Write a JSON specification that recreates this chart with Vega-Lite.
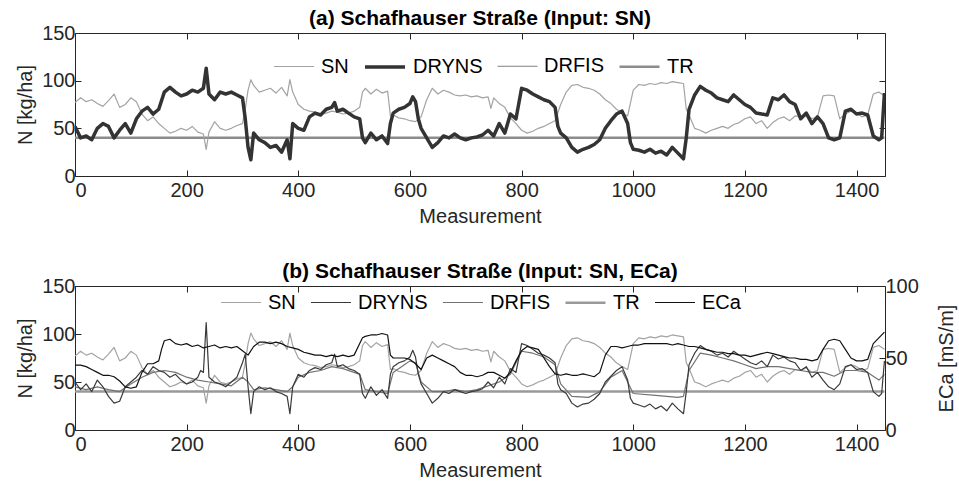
{
"$schema": "https://vega.github.io/schema/vega-lite/v6.json",
"padding": {"left": 15, "top": 7, "right": 2, "bottom": 2},
"data": {"values": [
{"m":0,"sn":77,"ya":52,"fa":52,"yb":50,"fb":45,"e":45,"tr":40},
{"m":10,"sn":82,"ya":40,"fa":40,"yb":42,"e":45},
{"m":20,"sn":78,"ya":42,"fa":42,"yb":48,"fb":42,"e":44},
{"m":30,"sn":80,"ya":38,"fa":38,"yb":40,"e":42},
{"m":40,"sn":76,"ya":50,"fa":50,"yb":52,"fb":45,"e":40},
{"m":50,"sn":73,"ya":55,"fa":55,"yb":45,"e":38},
{"m":60,"sn":79,"ya":52,"fa":52,"yb":35,"fb":42,"e":38},
{"m":70,"sn":86,"ya":40,"fa":40,"yb":28,"e":37},
{"m":80,"sn":72,"ya":48,"fa":48,"yb":30,"fb":40,"e":34},
{"m":90,"sn":75,"ya":55,"fa":55,"yb":45,"e":30},
{"m":100,"sn":82,"ya":45,"fa":45,"yb":50,"fb":48,"e":29},
{"m":110,"sn":78,"ya":60,"fa":60,"yb":55,"e":30},
{"m":120,"sn":65,"ya":68,"fa":68,"yb":62,"fb":55,"e":40},
{"m":130,"sn":58,"ya":72,"fa":72,"yb":58,"e":46},
{"m":140,"sn":62,"ya":65,"fa":65,"yb":66,"fb":60,"e":46},
{"m":150,"sn":55,"ya":70,"fa":70,"yb":62,"e":48},
{"m":155,"e":56},
{"m":160,"sn":50,"ya":88,"fa":88,"yb":60,"fb":62,"e":62},
{"m":170,"sn":45,"ya":93,"fa":93,"yb":55,"e":63},
{"m":180,"sn":47,"ya":88,"fa":88,"yb":58,"fb":60,"e":60},
{"m":190,"sn":50,"ya":84,"fa":84,"yb":52,"e":59},
{"m":200,"sn":48,"ya":86,"fa":86,"yb":48,"fb":55,"e":60},
{"m":210,"sn":52,"ya":90,"fa":90,"yb":50,"e":58},
{"m":220,"sn":46,"ya":88,"fa":88,"yb":55,"fb":52,"e":59},
{"m":225,"yb":62},
{"m":230,"sn":44,"ya":92,"fa":92,"yb":60,"e":57},
{"m":235,"sn":28,"ya":113,"fa":113,"yb":112},
{"m":240,"sn":46,"ya":86,"fa":86,"yb":55,"fb":50,"e":58},
{"m":250,"sn":57,"ya":80,"fa":80,"yb":50,"e":59},
{"m":260,"sn":50,"ya":88,"fa":88,"yb":48,"fb":48,"e":57},
{"m":270,"sn":48,"ya":86,"fa":86,"yb":45,"e":58},
{"m":280,"sn":50,"ya":88,"fa":88,"yb":50,"fb":46,"e":57},
{"m":290,"sn":53,"ya":85,"fa":85,"yb":55,"e":58},
{"m":300,"sn":55,"ya":82,"fa":82,"yb":70,"fb":55,"e":55},
{"m":305,"sn":70,"ya":60,"fa":60,"yb":79},
{"m":310,"sn":90,"ya":30,"fa":30,"yb":45,"fb":50,"e":52},
{"m":315,"sn":101,"ya":17,"fa":17,"yb":17},
{"m":320,"sn":95,"ya":45,"fa":45,"yb":40,"fb":42,"e":58},
{"m":330,"sn":88,"ya":38,"fa":38,"yb":45,"e":61},
{"m":340,"sn":90,"ya":35,"fa":35,"yb":42,"fb":44,"e":61},
{"m":350,"sn":92,"ya":30,"fa":30,"yb":44,"e":60},
{"m":360,"sn":87,"ya":32,"fa":32,"yb":40,"fb":42,"e":61},
{"m":370,"sn":93,"ya":25,"fa":25,"yb":38,"e":60},
{"m":380,"sn":84,"ya":38,"fa":38,"yb":35,"fb":40,"e":58},
{"m":385,"sn":101,"ya":18,"fa":18,"yb":17},
{"m":390,"sn":88,"ya":55,"fa":55,"yb":45,"fb":45,"e":57},
{"m":400,"sn":75,"ya":50,"fa":50,"yb":58,"fb":55,"e":56},
{"m":410,"sn":70,"ya":48,"fa":48,"yb":55,"e":54},
{"m":420,"sn":68,"ya":62,"fa":62,"yb":62,"fb":60,"e":53},
{"m":430,"sn":67,"ya":66,"fa":66,"yb":65,"e":52},
{"m":440,"sn":65,"ya":64,"fa":64,"yb":63,"fb":62,"e":52},
{"m":450,"sn":66,"ya":70,"fa":70,"yb":68,"e":51},
{"m":460,"sn":68,"ya":72,"fa":72,"yb":70,"fb":66,"e":52},
{"m":465,"ya":77,"fa":77,"yb":79},
{"m":470,"sn":67,"ya":68,"fa":68,"yb":66,"e":51},
{"m":480,"sn":65,"ya":70,"fa":70,"yb":68,"fb":64,"e":52},
{"m":490,"sn":66,"ya":66,"fa":66,"yb":64,"e":51},
{"m":500,"sn":68,"ya":62,"fa":62,"yb":62,"fb":60,"e":52},
{"m":510,"sn":72,"ya":60,"fa":60,"yb":58,"fb":58,"e":60},
{"m":515,"sn":88,"ya":40,"fa":40,"yb":38,"e":64},
{"m":520,"sn":92,"ya":35,"fa":35,"yb":33,"fb":42,"e":65},
{"m":530,"sn":86,"ya":45,"fa":45,"yb":45,"e":66},
{"m":540,"sn":91,"ya":38,"fa":38,"yb":36,"fb":40,"e":66},
{"m":550,"sn":87,"ya":42,"fa":42,"yb":42,"e":67},
{"m":560,"sn":89,"ya":34,"fa":34,"yb":33,"fb":38,"e":66},
{"m":565,"sn":63,"ya":55,"fa":55,"yb":58,"e":52},
{"m":570,"sn":64,"ya":66,"fa":66,"yb":66,"fb":60,"e":50},
{"m":580,"sn":61,"ya":70,"fa":70,"yb":70,"e":50},
{"m":590,"sn":60,"ya":72,"fa":72,"yb":72,"fb":68,"e":50},
{"m":600,"sn":58,"ya":76,"fa":76,"yb":76,"fb":72,"e":49},
{"m":605,"ya":83,"fa":83,"yb":83},
{"m":610,"sn":57,"ya":78,"fa":78,"yb":76,"fb":70,"e":46},
{"m":615,"ya":60,"fa":60,"yb":58},
{"m":620,"sn":62,"ya":50,"fa":50,"yb":48,"fb":50,"e":42},
{"m":630,"sn":80,"ya":40,"fa":40,"yb":38,"e":50},
{"m":640,"sn":92,"ya":30,"fa":30,"yb":28,"fb":40,"e":52},
{"m":650,"sn":86,"ya":35,"fa":35,"yb":33,"e":50},
{"m":660,"sn":90,"ya":42,"fa":42,"yb":40,"fb":40,"e":48},
{"m":670,"sn":88,"ya":40,"fa":40,"yb":38,"e":46},
{"m":680,"sn":85,"ya":44,"fa":44,"yb":42,"fb":42,"e":44},
{"m":690,"sn":84,"ya":40,"fa":40,"yb":40,"e":40},
{"m":700,"sn":85,"ya":38,"fa":38,"yb":38,"fb":40,"e":38},
{"m":710,"sn":83,"ya":40,"fa":40,"yb":40,"e":38},
{"m":720,"sn":84,"ya":41,"fa":41,"yb":41,"fb":42,"e":37},
{"m":730,"sn":82,"ya":43,"fa":43,"yb":43,"e":38},
{"m":740,"sn":83,"ya":48,"fa":48,"yb":50,"fb":46,"e":40},
{"m":745,"sn":71},
{"m":750,"sn":82,"ya":42,"fa":42,"yb":44,"e":40},
{"m":760,"sn":76,"ya":55,"fa":55,"yb":55,"fb":50,"e":38},
{"m":770,"sn":72,"ya":45,"fa":45,"yb":48,"e":36},
{"m":780,"sn":61,"ya":65,"fa":65,"yb":64,"fb":58,"e":40},
{"m":790,"sn":55,"ya":60,"fa":60,"yb":60,"e":48},
{"m":800,"sn":48,"ya":92,"fa":92,"yb":90,"fb":82,"e":55},
{"m":810,"sn":45,"ya":90,"fa":90,"yb":88,"e":58},
{"m":820,"sn":47,"ya":86,"fa":86,"yb":84,"fb":80,"e":57},
{"m":830,"sn":50,"ya":83,"fa":83,"yb":80,"e":56},
{"m":840,"sn":52,"ya":80,"fa":80,"yb":78,"fb":76,"e":50},
{"m":850,"sn":55,"ya":78,"fa":78,"yb":75,"e":44},
{"m":860,"sn":58,"ya":72,"fa":72,"yb":70,"fb":68,"e":39},
{"m":865,"ya":52,"fa":52,"yb":48},
{"m":870,"sn":75,"ya":45,"fa":45,"yb":42,"fb":48,"e":38},
{"m":880,"sn":88,"ya":40,"fa":40,"yb":38,"e":39},
{"m":890,"sn":95,"ya":30,"fa":30,"yb":28,"fb":35,"e":38},
{"m":900,"sn":96,"ya":25,"fa":25,"yb":24,"e":38},
{"m":910,"sn":93,"ya":28,"fa":28,"yb":27,"e":39},
{"m":920,"sn":92,"ya":30,"fa":30,"yb":28,"fb":34,"e":38},
{"m":930,"sn":90,"ya":33,"fa":33,"yb":32,"e":37},
{"m":940,"sn":86,"ya":38,"fa":38,"yb":38,"fb":40,"e":40},
{"m":950,"sn":80,"ya":50,"fa":50,"yb":50,"e":52},
{"m":960,"sn":76,"ya":58,"fa":58,"yb":56,"fb":55,"e":58},
{"m":970,"sn":70,"ya":65,"fa":65,"yb":62,"e":58},
{"m":980,"sn":66,"ya":68,"fa":68,"yb":66,"fb":62,"e":57},
{"m":990,"sn":63,"ya":55,"fa":55,"yb":52,"fb":50,"e":58},
{"m":995,"ya":35,"fa":35,"yb":33},
{"m":1000,"sn":90,"ya":28,"fa":28,"yb":28,"fb":38,"e":59},
{"m":1010,"sn":96,"ya":27,"fa":27,"yb":26,"e":59},
{"m":1020,"sn":95,"ya":25,"fa":25,"yb":24,"e":60},
{"m":1030,"sn":97,"ya":28,"fa":28,"yb":27,"e":60},
{"m":1040,"sn":96,"ya":24,"fa":24,"yb":22,"fb":36,"e":60},
{"m":1050,"sn":98,"ya":26,"fa":26,"yb":25,"e":60},
{"m":1060,"sn":97,"ya":22,"fa":22,"yb":20,"e":60},
{"m":1070,"sn":99,"ya":30,"fa":30,"yb":28,"e":59},
{"m":1080,"sn":98,"ya":24,"fa":24,"yb":22,"fb":34,"e":60},
{"m":1090,"sn":97,"ya":18,"fa":18,"yb":17,"fb":35,"e":59},
{"m":1095,"sn":70,"ya":40,"fa":40,"yb":40},
{"m":1100,"sn":64,"ya":70,"fa":70,"yb":68,"fb":62,"e":58},
{"m":1110,"sn":50,"ya":85,"fa":85,"yb":80,"e":58},
{"m":1120,"sn":48,"ya":94,"fa":94,"yb":88,"fb":80,"e":57},
{"m":1130,"sn":45,"ya":90,"fa":90,"yb":84,"e":56},
{"m":1140,"sn":48,"ya":87,"fa":87,"yb":82,"fb":78,"e":55},
{"m":1150,"sn":50,"ya":82,"fa":82,"yb":78,"e":54},
{"m":1160,"sn":52,"ya":80,"fa":80,"yb":80,"fb":75,"e":54},
{"m":1170,"sn":50,"ya":78,"fa":78,"yb":76,"e":53},
{"m":1180,"sn":54,"ya":85,"fa":85,"yb":82,"fb":72,"e":53},
{"m":1190,"sn":56,"ya":80,"fa":80,"yb":78,"e":52},
{"m":1200,"sn":60,"ya":75,"fa":75,"yb":74,"fb":68,"e":52},
{"m":1210,"sn":62,"ya":72,"fa":72,"yb":70,"e":51},
{"m":1220,"sn":55,"ya":66,"fa":66,"yb":68,"fb":64,"e":52},
{"m":1230,"sn":58,"ya":65,"fa":65,"yb":72,"e":53},
{"m":1240,"sn":50,"ya":64,"fa":64,"yb":66,"fb":66,"e":54},
{"m":1250,"sn":56,"ya":82,"fa":82,"yb":78,"e":53},
{"m":1260,"sn":60,"ya":80,"fa":80,"yb":74,"fb":66,"e":52},
{"m":1270,"sn":62,"ya":85,"fa":85,"yb":76,"e":51},
{"m":1280,"sn":58,"ya":78,"fa":78,"yb":72,"fb":64,"e":50},
{"m":1290,"sn":63,"ya":75,"fa":75,"yb":70,"e":50},
{"m":1300,"sn":62,"ya":60,"fa":60,"yb":62,"fb":62,"e":49},
{"m":1310,"sn":65,"ya":66,"fa":66,"yb":66,"e":49},
{"m":1320,"sn":60,"ya":55,"fa":55,"yb":55,"fb":60,"e":48},
{"m":1330,"sn":62,"ya":62,"fa":62,"yb":60,"e":49},
{"m":1340,"sn":84,"ya":55,"fa":55,"yb":52,"fb":60,"e":56},
{"m":1350,"sn":85,"ya":40,"fa":40,"yb":45,"e":62},
{"m":1360,"sn":84,"ya":38,"fa":38,"yb":42,"fb":56,"e":63},
{"m":1370,"sn":60,"ya":40,"fa":40,"yb":48,"e":62},
{"m":1380,"sn":65,"ya":68,"fa":68,"yb":66,"fb":62,"e":56},
{"m":1390,"sn":68,"ya":70,"fa":70,"yb":68,"e":50},
{"m":1400,"sn":66,"ya":65,"fa":65,"yb":63,"fb":62,"e":48},
{"m":1410,"sn":62,"ya":66,"fa":66,"yb":64,"e":48},
{"m":1420,"sn":64,"ya":64,"fa":64,"yb":60,"fb":60,"e":49},
{"m":1430,"sn":86,"ya":42,"fa":42,"yb":40,"e":60},
{"m":1440,"sn":88,"ya":38,"fa":38,"yb":35,"fb":52,"e":64},
{"m":1445,"ya":40,"fa":40,"yb":38},
{"m":1450,"sn":84,"ya":87,"fa":87,"yb":72,"fb":58,"e":68,"tr":40}
]},
"config": {
  "font": "Liberation Sans",
  "view": {"stroke": "#262626", "strokeWidth": 1},
  "axis": {"labelFontSize": 20, "titleFontSize": 20, "titleFontWeight": "normal", "labelColor": "#262626", "titleColor": "#262626", "tickColor": "#262626", "domain": false, "grid": false, "tickSize": -6, "labelPadding": 6, "format": "d"},
  "axisX": {"labelPadding": 10, "titlePadding": 6},
  "title": {"fontSize": 21, "fontWeight": "bold", "color": "#000000", "offset": -6, "anchor": "middle"},
  "legend": {"labelFontSize": 20, "labelColor": "#000000", "symbolType": "stroke", "symbolSize": 1600, "labelOffset": 6, "columnPadding": 14, "padding": 0},
  "line": {"strokeJoin": "round", "strokeCap": "butt", "invalid": "filter"}
},
"spacing": 33,
"resolve": {"scale": {"color": "independent", "strokeWidth": "independent"}, "legend": {"color": "independent", "strokeWidth": "independent"}},
"vconcat": [
  {
    "width": 810, "height": 143,
    "title": {"text": "(a) Schafhauser Straße (Input: SN)"},
    "transform": [{"fold": ["tr", "sn", "fa", "ya"], "as": ["s", "v"]}],
    "layer": [
      {
        "mark": {"type": "line", "clip": true, "invalid": "filter"},
        "encoding": {
          "x": {"field": "m", "type": "quantitative", "scale": {"domain": [0, 1451], "nice": false, "zero": false}, "axis": {"values": [0, 200, 400, 600, 800, 1000, 1200, 1400], "title": "Measurement"}},
          "y": {"field": "v", "type": "quantitative", "scale": {"domain": [0, 150], "nice": false}, "axis": {"values": [0, 50, 100, 150], "title": "N [kg/ha]", "titlePadding": 6}},
          "color": {"field": "s", "type": "nominal", "scale": {"domain": ["sn", "ya", "fa", "tr"], "range": ["#a3a3a3", "#333333", "#808080", "#8c8c8c"]}, "legend": {"orient": "none", "legendX": 198, "legendY": 12, "direction": "horizontal", "title": null, "labelExpr": "datum.label == 'sn' ? 'SN' : datum.label == 'ya' ? 'DRYNS' : datum.label == 'fa' ? 'DRFIS' : 'TR'"}},
          "strokeWidth": {"field": "s", "type": "nominal", "scale": {"type": "ordinal", "domain": ["sn", "ya", "fa", "tr"], "range": [1.2, 3.5, 1, 2.5]}, "legend": {"orient": "none", "legendX": 198, "legendY": 12, "direction": "horizontal", "title": null, "labelExpr": "datum.label == 'sn' ? 'SN' : datum.label == 'ya' ? 'DRYNS' : datum.label == 'fa' ? 'DRFIS' : 'TR'"}}
        }
      },
      {
        "mark": {"type": "point", "opacity": 0},
        "encoding": {
          "x": {"field": "m", "type": "quantitative", "axis": {"orient": "top", "labels": false, "title": null, "minExtent": 0, "maxExtent": 0, "values": [0, 200, 400, 600, 800, 1000, 1200, 1400]}},
          "y": {"field": "v", "type": "quantitative", "axis": {"orient": "right", "labels": false, "title": null, "minExtent": 0, "maxExtent": 0, "values": [0, 50, 100, 150]}}
        }
      }
    ],
    "resolve": {"axis": {"x": "independent", "y": "independent"}}
  },
  {
    "width": 810, "height": 144,
    "title": {"text": "(b) Schafhauser Straße (Input: SN, ECa)"},
    "layer": [
      {
        "transform": [{"fold": ["tr", "sn", "fb", "yb"], "as": ["s", "v"]}],
        "mark": {"type": "line", "clip": true, "invalid": "filter"},
        "encoding": {
          "x": {"field": "m", "type": "quantitative", "scale": {"domain": [0, 1451], "nice": false, "zero": false}, "axis": {"values": [0, 200, 400, 600, 800, 1000, 1200, 1400], "title": "Measurement"}},
          "y": {"field": "v", "type": "quantitative", "scale": {"domain": [0, 150], "nice": false}, "axis": {"values": [0, 50, 100, 150], "title": "N [kg/ha]", "titlePadding": 6}},
          "color": {"field": "s", "type": "nominal", "scale": {"domain": ["sn", "yb", "fb", "tr", "e"], "range": ["#a3a3a3", "#3a3a3a", "#737373", "#999999", "#111111"]}, "legend": {"orient": "none", "legendX": 145, "legendY": -5, "direction": "horizontal", "title": null, "labelExpr": "datum.label == 'sn' ? 'SN' : datum.label == 'yb' ? 'DRYNS' : datum.label == 'fb' ? 'DRFIS' : datum.label == 'tr' ? 'TR' : 'ECa'"}},
          "strokeWidth": {"field": "s", "type": "nominal", "scale": {"type": "ordinal", "domain": ["sn", "yb", "fb", "tr", "e"], "range": [1.2, 1.2, 1.2, 2.5, 1.2]}, "legend": {"orient": "none", "legendX": 145, "legendY": -5, "direction": "horizontal", "title": null, "labelExpr": "datum.label == 'sn' ? 'SN' : datum.label == 'yb' ? 'DRYNS' : datum.label == 'fb' ? 'DRFIS' : datum.label == 'tr' ? 'TR' : 'ECa'"}}
        }
      },
      {
        "transform": [{"fold": ["e"], "as": ["s", "v"]}],
        "mark": {"type": "line", "clip": true, "invalid": "filter"},
        "encoding": {
          "x": {"field": "m", "type": "quantitative", "axis": null},
          "y": {"field": "v", "type": "quantitative", "scale": {"domain": [0, 100], "nice": false}, "axis": {"orient": "right", "values": [0, 50, 100], "title": "ECa [mS/m]", "titleAngle": 270, "titlePadding": 38}},
          "color": {"field": "s", "type": "nominal", "scale": {"domain": ["sn", "yb", "fb", "tr", "e"], "range": ["#a3a3a3", "#3a3a3a", "#737373", "#999999", "#111111"]}},
          "strokeWidth": {"field": "s", "type": "nominal", "scale": {"type": "ordinal", "domain": ["sn", "yb", "fb", "tr", "e"], "range": [1.2, 1.2, 1.2, 2.5, 1.2]}}
        }
      },
      {
        "transform": [{"fold": ["sn"], "as": ["s", "v"]}],
        "mark": {"type": "point", "opacity": 0},
        "encoding": {
          "x": {"field": "m", "type": "quantitative", "axis": {"orient": "top", "labels": false, "title": null, "minExtent": 0, "maxExtent": 0, "values": [0, 200, 400, 600, 800, 1000, 1200, 1400]}}
        }
      }
    ],
    "resolve": {"scale": {"y": "independent"}, "axis": {"x": "independent", "y": "independent"}}
  }
]
}
